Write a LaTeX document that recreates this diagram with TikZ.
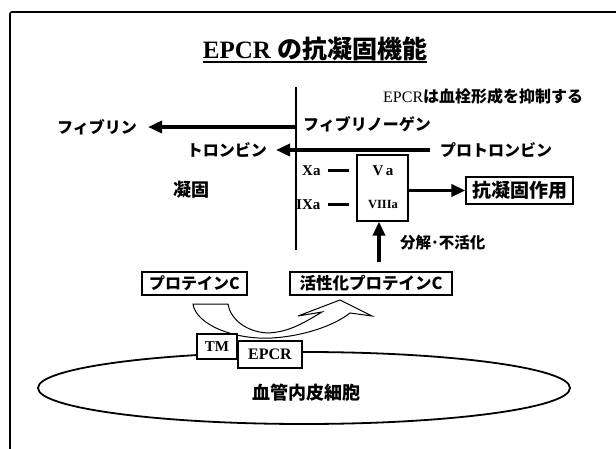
\documentclass[tikz,border=0pt]{standalone}
\usepackage{fontspec}
\setmainfont{Liberation Serif}
\newfontfamily\cjk{Noto Sans CJK JP}
\usetikzlibrary{arrows.meta,shapes.geometric}
\newcommand{\jp}[1]{{\cjk\bfseries #1}}
\newcommand{\fs}[1]{\fontsize{#1}{#1}\selectfont}
\begin{document}
\begin{tikzpicture}[x=1pt,y=-1pt,
  txt/.style={inner sep=0pt, font=\fs{16}},
  bigarrow/.style={line width=3.8pt, -{Triangle[length=14pt,width=12pt]}},
  bar/.style={line width=3pt},
  box/.style={draw, line width=1.2pt, fill=white, inner sep=0pt, font=\fs{16}},
]
\useasboundingbox (0,0) rectangle (616,449);
% frame
\draw[line width=1.6pt, rounded corners=2pt] (10,449) -- (10,12) -- (616,12);

% title
\node[inner sep=0pt, font=\fs{25}\bfseries] (title) at (315,49) {EPCR \jp{の抗凝固機能}};
\draw[line width=1.5pt] ([yshift=-1pt]title.south west) -- ([yshift=-1pt]title.south east);

% vertical membrane line
\coordinate (vtop) at (296,87);
\coordinate (vbot) at (296,250);
\draw[line width=2pt] (vtop) -- (vbot);

\node[txt, anchor=west] (epcrnote) at (383,96) {EPCR\jp{は血栓形成を抑制する}};

% fibrin
\coordinate (fstart) at (296,127);
\node[txt, anchor=east] (fibrin) at (137,127) {\jp{フィブリン}};
\node[txt, anchor=west] (fibrinogen) at (303,124) {\jp{フィブリノーゲン}};
\draw[bigarrow, shorten >=11pt] (fstart) -- (fibrin.east);

% thrombin
\node[txt, anchor=east] (thrombin) at (267,150) {\jp{トロンビン}};
\node[txt, anchor=west] (prothrombin) at (440,150) {\jp{プロトロンビン}};
\draw[bigarrow, shorten <=10pt, shorten >=9pt] (prothrombin.west) -- (thrombin.east);

\node[txt, font=\fs{18}] (gyoko) at (191,190) {\jp{凝固}};

% Va / VIIIa complex
\node[box, minimum width=51pt, minimum height=66pt] (va) at (382.5,188) {};
\node[txt, font=\fs{15}\bfseries] (valabel) at (383,171) {V\,a};
\node[txt, font=\fs{12.5}\bfseries] (viiialabel) at (383,205) {VIIIa};
\node[txt, anchor=west, font=\fs{15}\bfseries] (xa) at (302,171) {Xa};
\node[txt, anchor=west, font=\fs{15}\bfseries] (ixa) at (296,205) {IXa};
\draw[bar, shorten <=7pt, shorten >=7pt] (xa.east) -- (xa.east -| va.west);
\draw[bar, shorten <=7pt, shorten >=7pt] (ixa.east) -- (ixa.east -| va.west);

% anticoagulant
\node[box, minimum width=107pt, minimum height=27pt, font=\fs{19}] (anti) at (519.5,190.5) {\jp{抗凝固作用}};
\draw[bigarrow] (anti.west -| va.east) -- (anti.west);

\node[txt, anchor=west, font=\fs{15.5}] (decomp) at (400,243) {\jp{分解･不活化}};

% protein C
\node[box, minimum width=105pt, minimum height=23pt] (pc) at (194.5,283.5) {\jp{プロテインC}};
\node[box, minimum width=162pt, minimum height=23pt, font=\fs{16.5}] (apc) at (371,283.5) {\jp{活性化プロテインC}};
\coordinate (upstart) at (379,262);
\draw[bigarrow] (upstart) -- (upstart |- va.south);

% endothelial cell
\node[draw, ellipse, line width=1.8pt, minimum width=532pt, minimum height=72pt, inner sep=0pt] (cell) at (304,388) {};
\node[txt, font=\fs{18}] (celltext) at (306,393) {\jp{血管内皮細胞}};

% curved block arrow
\draw[line width=1pt, fill=white, line join=miter]
  (193,304) .. controls (196,325) and (235,340) .. (272,338)
  .. controls (305,336) and (335,325) .. (350,313)
  -- (372,316) -- (340,300) -- (298,316) -- (322,312)
  .. controls (305,322) and (290,332) .. (268,333)
  .. controls (245,332) and (230,318) .. (228,304) -- cycle;

\node[box, minimum width=40pt, minimum height=25pt, font=\fs{15}\bfseries] (tm) at (217,346.5) {TM};
\node[box, minimum width=64pt, minimum height=27pt, font=\fs{16}\bfseries] (epcr) at (270,354.5) {EPCR};
\end{tikzpicture}
\end{document}
